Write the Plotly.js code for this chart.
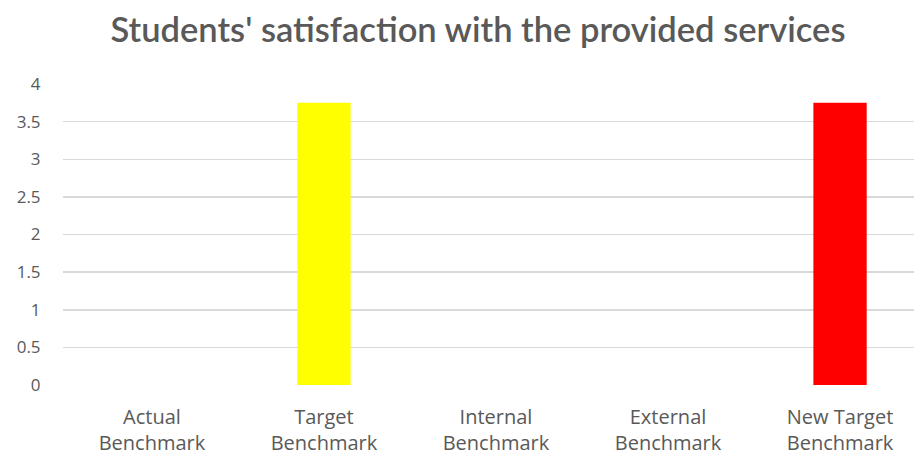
<!DOCTYPE html>
<html><head><meta charset="utf-8">
<script src="https://cdn.plot.ly/plotly-3.0.1.min.js"></script>
<style>html,body{margin:0;padding:0;background:#fff}</style>
</head><body>
<div id="chart" style="width:914px;height:456px"></div>
<script>
var categories = ["Actual<br>Benchmark", "Target<br>Benchmark", "Internal<br>Benchmark", "External<br>Benchmark", "New Target<br>Benchmark"];
var values = [null, 3.75, null, null, 3.75];
var barColors = ["#4472C4", "#FFFF00", "#A5A5A5", "#ED7D31", "#FF0000"];
var yTickVals = [0, 0.5, 1, 1.5, 2, 2.5, 3, 3.5, 4];
var yTickText = ["0", "0.5", "1", "1.5", "2", "2.5", "3", "3.5", "4"];

var trace = {
  type: "bar",
  x: [0,1,2,3,4],
  y: values,
  width: 0.31,
  marker: {color: barColors, line: {width: 0}},
  hoverinfo: "skip"
};
var layout = {
  width: 914, height: 456,
  margin: {l: 63, r: 0, t: 84, b: 71},
  paper_bgcolor: "#fff", plot_bgcolor: "#fff",
  showlegend: false,
  title: {text: "Students' satisfaction with the provided services", x: 0.523, xanchor: "center", y: 0.935, yanchor: "middle",
          font: {family: "Lato, 'Open Sans', sans-serif", size: 34.5, weight: 600, color: "#595959"}},
  xaxis: {range: [-0.517, 4.43], tickvals: [0,1,2,3,4], ticktext: categories, showgrid: false, zeroline: false,
          showline: false, ticks: "outside", ticklen: 14, tickcolor: "rgba(0,0,0,0)",
          tickfont: {family: "'Open Sans', sans-serif", size: 20, color: "#595959"}, fixedrange: true},
  yaxis: {range: [0, 4], tickvals: yTickVals, ticktext: yTickText, showgrid: true, gridcolor: "#D9D9D9", gridwidth: 1.5,
          zeroline: false, showline: false, ticks: "outside", ticklen: 18, tickcolor: "rgba(0,0,0,0)",
          tickfont: {family: "'Open Sans', sans-serif", size: 17, color: "#595959"}, fixedrange: true}
};
Plotly.newPlot("chart", [trace], layout, {displayModeBar: false, staticPlot: true});
</script>
</body></html>
